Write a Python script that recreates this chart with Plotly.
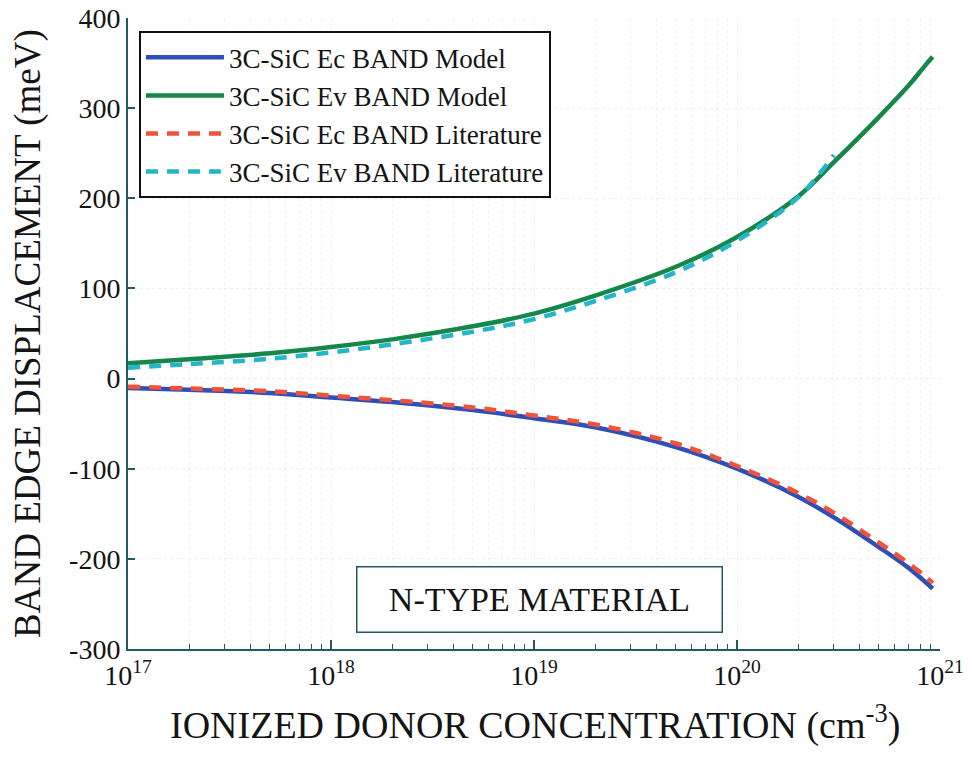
import plotly.graph_objects as go

# Ionized donor concentration (cm^-3)
conc_model = [1e17, 2e17, 5e17, 1e18, 2e18, 5e18, 1e19, 2e19, 5e19, 1e20, 2e20, 3e20, 5e20, 7e20, 8.5e20, 9.2e20]
conc_lit_ev = [1e17, 2e17, 5e17, 1e18, 2e18, 5e18, 1e19, 2e19, 5e19, 1e20, 2e20, 3e20]

# Band edge displacement (meV)
ec_model = [-10.5, -12.5, -16, -21, -26, -35, -44, -54, -76, -100, -131, -154, -187, -210, -226, -233]
ev_model = [17, 21.5, 28, 35, 43.5, 58, 72, 92, 124, 157, 202, 240, 290, 325, 348, 357]
ec_lit = [-9, -11, -14, -19, -24, -32, -41, -51, -72, -97, -127, -149, -182, -205, -220, -227]
ev_lit = [12, 16, 22, 29, 38, 52, 66, 86, 118, 153, 201, 248]

x_ticks = [1e17, 1e18, 1e19, 1e20, 1e21]
x_tick_text = ["10<sup>17</sup>", "10<sup>18</sup>", "10<sup>19</sup>", "10<sup>20</sup>", "10<sup>21</sup>"]
x_minor_ticks = [float(m) * 10.0 ** e for e in range(17, 21) for m in range(2, 10)]
y_ticks = [-300, -200, -100, 0, 100, 200, 300, 400]
y_tick_text = ["-300", "-200", "-100", "0", "100", "200", "300", "400"]

FONT = "Liberation Serif"
AXC = "#1f5a66"
TXT = "#141414"
GRID = "rgba(190,210,232,0.35)"

fig = go.Figure()
fig.add_trace(go.Scatter(x=conc_model, y=ec_model, mode="lines", name="3C-SiC Ec BAND Model",
                         line=dict(color="#2f4fb8", width=4.5, shape="spline")))
fig.add_trace(go.Scatter(x=conc_model, y=ev_model, mode="lines", name="3C-SiC Ev BAND Model",
                         line=dict(color="#15874a", width=4.5, shape="spline")))
fig.add_trace(go.Scatter(x=conc_model, y=ec_lit, mode="lines", name="3C-SiC Ec BAND Literature",
                         line=dict(color="#f0523a", width=4.5, dash="12px,9px", shape="spline")))
fig.add_trace(go.Scatter(x=conc_lit_ev, y=ev_lit, mode="lines", name="3C-SiC Ev BAND Literature",
                         line=dict(color="#25b5c8", width=4.5, dash="12px,9px", shape="spline")))
# invisible carrier trace for the minor-tick overlay axis
fig.add_trace(go.Scatter(x=conc_model, y=ev_model, mode="lines", xaxis="x2", showlegend=False,
                         hoverinfo="skip", opacity=0, line=dict(width=0)))

fig.update_layout(
    width=972, height=759,
    margin=dict(l=128, r=32, t=18, b=110),
    paper_bgcolor="white", plot_bgcolor="white",
    font=dict(family=FONT, color=TXT),
    showlegend=True,
    legend=dict(x=0.0135, y=0.979, xanchor="left", yanchor="top",
                bordercolor="#111111", borderwidth=2, bgcolor="white",
                font=dict(family=FONT, size=27, color=TXT),
                itemwidth=78, tracegroupgap=0),
    annotations=[
        dict(x=0.507, y=0.0777, xref="paper", yref="paper", xanchor="center", yanchor="middle",
             text="N-TYPE MATERIAL", showarrow=False,
             font=dict(family=FONT, size=34, color=TXT),
             bordercolor=AXC, borderwidth=1.5, borderpad=4,
             bgcolor="white", width=356, height=56),
        dict(x=0.501, y=-0.1157, xref="paper", yref="paper", xanchor="center", yanchor="middle",
             text="IONIZED DONOR CONCENTRATION (cm<sup>-3</sup>)", showarrow=False,
             font=dict(family=FONT, size=38, color=TXT)),
        dict(x=-0.1232, y=0.5008, xref="paper", yref="paper", xanchor="center", yanchor="middle",
             text="BAND EDGE DISPLACEMENT (meV)", showarrow=False, textangle=-90,
             font=dict(family=FONT, size=37, color=TXT)),
    ],
    xaxis2=dict(type="log", range=[17, 21], overlaying="x", side="bottom", anchor="y",
                tickvals=x_minor_ticks, showticklabels=False,
                ticks="inside", ticklen=5, tickwidth=1.2, tickcolor=AXC,
                showgrid=True, gridcolor="rgba(190,210,232,0.22)", griddash="dot",
                showline=False, zeroline=False, automargin=False),
    xaxis=dict(type="log", range=[17, 21],
               tickvals=x_ticks, ticktext=x_tick_text,
               ticks="inside", ticklen=9, tickwidth=1.5, tickcolor=AXC,
               showline=True, linecolor=AXC, linewidth=2, mirror=False,
               showgrid=True, gridcolor=GRID, griddash="dot",
               zeroline=False, automargin=False, ticklabeloverflow="allow",
               tickfont=dict(family=FONT, size=28, color=TXT)),
    yaxis=dict(range=[-300, 400], tickvals=y_ticks, ticktext=y_tick_text,
               ticks="inside", ticklen=7, tickwidth=1.5, tickcolor=AXC,
               showline=True, linecolor=AXC, linewidth=2, mirror=False,
               showgrid=True, gridcolor=GRID, griddash="dot",
               zeroline=False, automargin=False, ticklabeloverflow="allow",
               tickfont=dict(family=FONT, size=28, color=TXT)),
)

fig.write_html("out.html", config={"displayModeBar": False},
               post_script="document.body.style.margin='0px';")
